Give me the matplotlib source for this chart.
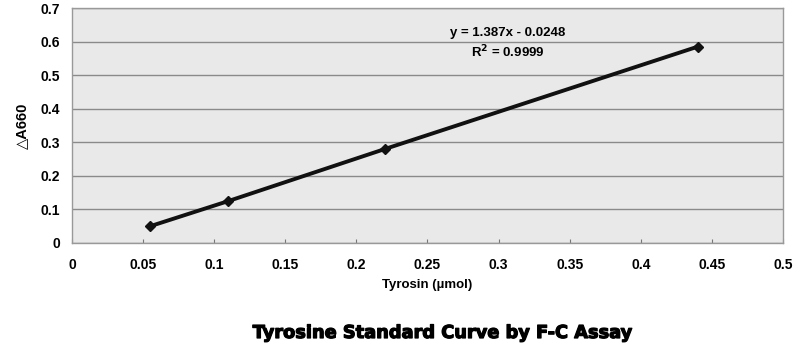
import matplotlib
matplotlib.use("Agg")
import matplotlib.pyplot as plt
import matplotlib.patheffects as pe

tyrosine = [0.055, 0.11, 0.22, 0.44]
delta_a660 = [0.05, 0.125, 0.28, 0.585]
x_ticks = [0, 0.05, 0.1, 0.15, 0.2, 0.25, 0.3, 0.35, 0.4, 0.45, 0.5]
x_tick_labels = ["0", "0.05", "0.1", "0.15", "0.2", "0.25", "0.3", "0.35", "0.4", "0.45", "0.5"]
y_ticks = [0, 0.1, 0.2, 0.3, 0.4, 0.5, 0.6, 0.7]
y_tick_labels = ["0", "0.1", "0.2", "0.3", "0.4", "0.5", "0.6", "0.7"]

plt.rcParams['font.family'] = ['Liberation Sans', 'DejaVu Sans']

fig = plt.figure(figsize=(7.97, 3.52), dpi=100)
ax = fig.add_axes([0.0903, 0.3097, 0.8921, 0.6673])
ax.set_facecolor('#e9e9e9')

ax.plot(tyrosine, delta_a660, color='#111111', lw=2.8, marker='D', ms=5,
        markerfacecolor='#111111', markeredgecolor='#111111', zorder=3)

ax.set_xlim(0, 0.5)
ax.set_ylim(0, 0.7)
ax.set_xticks(x_ticks)
ax.set_xticklabels(x_tick_labels, fontsize=10, fontweight='bold')
ax.set_yticks(y_ticks)
ax.set_yticklabels(y_tick_labels, fontsize=10, fontweight='bold')
ax.tick_params(axis='x', direction='in', length=3, color='#777777', pad=11)
ax.tick_params(axis='y', length=0, pad=8.5)
ax.yaxis.grid(True, color='#8a8a8a', lw=1.0)
ax.set_axisbelow(True)
for s in ax.spines.values():
    s.set_color('#999999')
    s.set_linewidth(1.0)

ax.set_xlabel('Tyrosin (\u00b5mol)', fontsize=9.5, fontweight='bold', labelpad=5)
ax.set_ylabel('\u25b3A660', fontsize=10.5, fontweight='bold', labelpad=8,
              family=['Liberation Sans', 'DejaVu Sans'])

ax.text(0.3066, 0.6255, 'y = 1.387x - 0.0248', fontsize=9.5, fontweight='bold',
        ha='center', va='center', transform=ax.transData)
ax.text(0.3066, 0.569, 'R$^\\mathbf{2}$ = 0.9999', fontsize=9.5, fontweight='bold',
        ha='center', va='center', transform=ax.transData)

fig.text(0.555, 0.054, 'Tyrosine Standard Curve by F-C Assay', fontsize=12.8,
         fontweight='heavy', ha='center', va='center',
         family=['DejaVu Sans'],
         path_effects=[pe.withStroke(linewidth=0.9, foreground='black')])

fig.savefig('out.png', dpi=100)
